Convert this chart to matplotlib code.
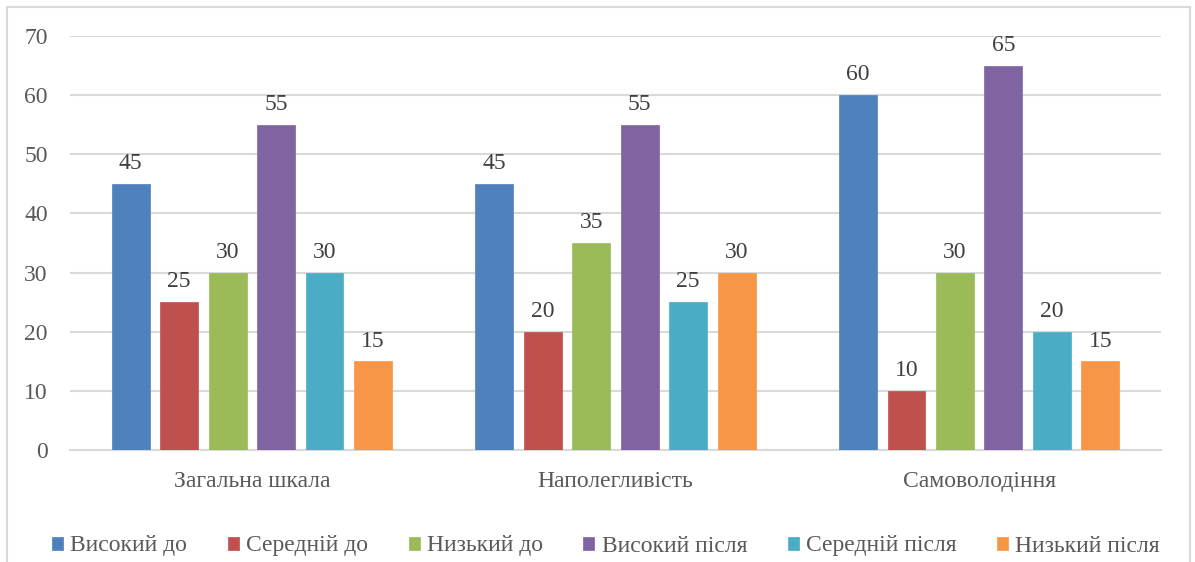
import matplotlib
matplotlib.use("Agg")
import matplotlib.pyplot as plt
import numpy as np
from matplotlib.patches import Rectangle

categories = ["Загальна шкала", "Наполегливість", "Самоволодіння"]
series_names = ["Високий до", "Середній до", "Низький до", "Високий після", "Середній після", "Низький після"]
vysokyi_do = [45, 45, 60]
serednii_do = [25, 20, 10]
nyzkyi_do = [30, 35, 30]
vysokyi_pislia = [55, 55, 65]
serednii_pislia = [30, 25, 20]
nyzkyi_pislia = [15, 30, 15]
series_values = [vysokyi_do, serednii_do, nyzkyi_do, vysokyi_pislia, serednii_pislia, nyzkyi_pislia]
colors = ["#4F81BD", "#C0504D", "#9BBB59", "#8064A2", "#4BACC6", "#F79646"]

plt.rcParams['font.family'] = ['Liberation Serif', 'DejaVu Serif']
text_color = "#595959"
grid_color = "#D9D9D9"
fs = 17

W, H = 1195, 562
fig = plt.figure(figsize=(W / 100, H / 100), dpi=100)
ax = fig.add_axes([70 / W, 1 - 450 / H, (1161 - 70) / W, (450 - 36) / H])

x = np.arange(len(categories))
bar_w = 38 / 364
step = 48.5 / 364
for i, (name, vals, c) in enumerate(zip(series_names, series_values, colors)):
    pos = x + (i - 2.5) * step
    bars = ax.bar(pos, vals, width=bar_w, color=c, label=name, edgecolor=c, linewidth=0.5, zorder=3)
    for b, v in zip(bars, vals):
        ax.annotate(str(v), (b.get_x() + b.get_width() / 2, v), xytext=(0, 7),
                    textcoords="offset points", ha="center", va="bottom",
                    fontsize=fs, color="#404040")

ax.set_xlim(-0.5, 2.5)
ax.set_ylim(0, 70)
ax.set_yticks(range(0, 71, 10))
ax.set_xticks(x)
ax.set_xticklabels(categories)
ax.tick_params(axis="both", length=0, labelsize=fs, colors=text_color)
ax.tick_params(axis="x", pad=15)
ax.tick_params(axis="y", pad=16)
ax.yaxis.grid(True, color=grid_color, linewidth=1.5, zorder=0)
ax.set_axisbelow(True)
for s in ["top", "right", "left"]:
    ax.spines[s].set_visible(False)
ax.spines["bottom"].set_color(grid_color)
ax.spines["bottom"].set_linewidth(1.5)

leg = fig.legend(loc="center", bbox_to_anchor=(606 / W, 1 - 546 / H), ncol=6, frameon=False,
                 fontsize=fs, handlelength=0.47, handleheight=0.47, handletextpad=0.3,
                 columnspacing=1.72, labelcolor=text_color, borderaxespad=0, borderpad=0)

fig.patches.append(Rectangle((7 / W, -0.1), (1190 - 7) / W, 1.1 - 7 / H,
                             transform=fig.transFigure, fill=False,
                             edgecolor="#D9D9D9", linewidth=1.5))

fig.savefig("out.png", dpi=100)
